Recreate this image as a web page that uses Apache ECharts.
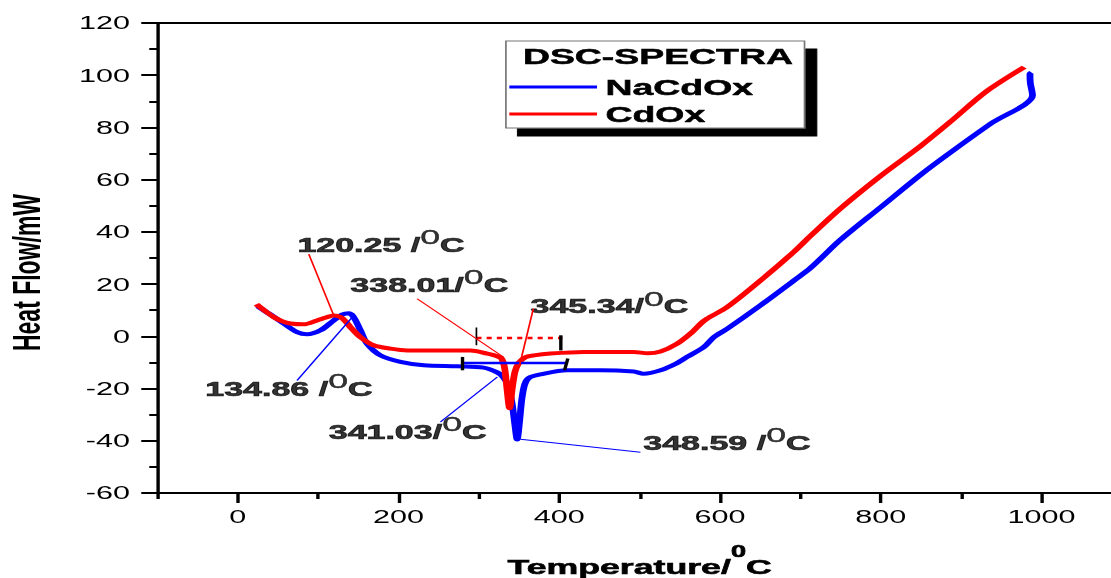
<!DOCTYPE html>
<html><head><meta charset="utf-8">
<script src="https://cdn.jsdelivr.net/npm/echarts@6/dist/echarts.min.js"></script>
<style>
html,body{margin:0;padding:0;background:#fff;overflow:hidden;width:1111px;height:578px}
#chart{width:660px;height:578px;transform:scaleX(1.7);transform-origin:0 0;}
</style>
</head><body><div id="chart"></div>
<script>
// ---- data ----
const naTemp = [25, 40, 57.3, 74, 86.4, 103, 119.5, 130, 138, 144, 152.7, 161, 177.6, 202.5, 231.6, 273, 306, 322.8, 330, 336, 341, 344.5, 347.7, 350.5, 353.5, 357, 362, 376.7, 410, 451.4, 492.8, 505, 526, 545, 559, 580, 592.4, 609, 650.5, 692, 713, 750, 800, 850, 887, 937, 988.7, 986, 985.5, 987.5];
const naHeat = [11.5, 8.5, 4.9, 1.6, 0.8, 2.3, 6.1, 8.3, 8.8, 7.5, 2.3, -2.8, -7.3, -9.8, -11.1, -11.5, -12.0, -13.8, -15.5, -18.5, -25, -33, -39.5, -33, -24, -18.5, -16, -14.6, -13.0, -13.0, -13.5, -14.3, -13.0, -10.5, -7.9, -4.1, -0.3, 2.9, 11.9, 21.4, 26.3, 37, 49.5, 62, 70.5, 81.5, 92.3, 97, 100.5, 101];
const cdTemp = [23.3, 35, 44.8, 55, 65.6, 82, 98.8, 110, 119.5, 127.8, 135, 140, 152.7, 169, 190, 210.8, 250, 289.6, 310.4, 322, 328.2, 332, 335, 338.3, 341.5, 345, 350, 358, 368.4, 389, 430.6, 492.8, 510, 526, 546.8, 565, 576, 584, 609, 650.5, 692, 713, 750, 800, 850, 887, 930, 978.4];
const cdHeat = [12.3, 9.5, 7.4, 5.8, 4.9, 4.6, 6.1, 7.2, 8.0, 7.4, 5.5, 3.6, -0.3, -3.4, -4.7, -5.4, -5.4, -5.4, -6.6, -7.5, -8.5, -12, -20, -27.5, -20, -13.5, -10, -8, -7.3, -6.6, -6.0, -6.0, -6.5, -5.8, -2.8, 1.5, 4.9, 6.8, 11.2, 21.4, 32.4, 38.6, 49, 61.5, 73, 82.3, 93.5, 103.1];

const xMajorTicks = [0, 200, 400, 600, 800, 1000];
const xMinorTicks = [-100, 100, 300, 500, 700, 900, 1100];

// peak annotations
const annText   = ['120.25 /', '134.86 /', '338.01/', '345.34/', '341.03/', '348.59 /'];
const annTextX  = [74.3, -40.2, 140.2, 364.3, 113.3, 504.6];
const annTextY  = [32.2, -23.0, 17.0, 8.7, -39.2, -43.7];
const annFromX  = [88.5, 73.9, 223.3, 367.8, 252.2, 351.8];
const annFromY  = [31.5, -16.9, 14.4, 10.6, -32.8, -39.4];
const annToX    = [119.5, 144.4, 331, 350, 323, 501];
const annToY    = [8.0, 8.0, -8, -12, -15.6, -44.4];
const annSeries = ['CdOx', 'NaCdOx', 'CdOx', 'CdOx', 'NaCdOx', 'NaCdOx'];

// integration baselines
const cdBaseX = [297, 404], cdBaseY = [-0.6, -0.6];
const naBaseX = [279.7, 410], naBaseY = [-10.2, -10.2];
const markX1 = [297, 402, 279.7, 410.7], markY1 = [3.4, 0.4, -7.9, -8.5];
const markX2 = [297, 402, 279.7, 406.6], markY2 = [-3.4, -5.4, -13, -13];

// ---- chart ----
const FONT = 'Liberation Sans, Arial, sans-serif';
const COLORS = { NaCdOx: '#0000ff', CdOx: '#ff0000' };
const zip = (a, b) => a.map((v, i) => [v, b[i]]);

const series = [
  { name: 'NaCdOx', type: 'line', xAxisIndex: 0, yAxisIndex: 0, data: zip(naTemp, naHeat),
    showSymbol: false, symbol: 'none', smooth: 0.3, color: COLORS.NaCdOx,
    lineStyle: { width: 4, color: COLORS.NaCdOx } },
  { name: 'CdOx', type: 'line', xAxisIndex: 0, yAxisIndex: 0, data: zip(cdTemp, cdHeat),
    showSymbol: false, symbol: 'none', smooth: 0.3, color: COLORS.CdOx,
    lineStyle: { width: 4, color: COLORS.CdOx } },
  { name: 'cdBase', type: 'line', data: zip(cdBaseX, cdBaseY), symbol: 'none',
    lineStyle: { width: 2.5, color: COLORS.CdOx, type: [3, 3] } },
  { name: 'naBase', type: 'line', data: zip(naBaseX, naBaseY), symbol: 'none',
    lineStyle: { width: 2.5, color: COLORS.NaCdOx } }
];
markX1.forEach((x, i) => {
  series.push({ name: 'mark' + i, type: 'line', symbol: 'none',
    data: [[x, markY1[i]], [markX2[i], markY2[i]]],
    lineStyle: { width: i === 0 ? 1 : 2, color: '#000' } });
});
annText.forEach((t, i) => {
  series.push({ name: 'lead' + i, type: 'line', symbol: 'none',
    data: [[annFromX[i], annFromY[i]], [annToX[i], annToY[i]]],
    lineStyle: { width: 1, color: COLORS[annSeries[i]] } });
});
series.push({
  name: 'annotations', type: 'scatter', symbolSize: 0, silent: true,
  data: annText.map((t, i) => ({ value: [annTextX[i], annTextY[i]], txt: t })),
  label: {
    show: true, position: [0, 0], align: 'left', verticalAlign: 'bottom', offset: [0, 3],
    formatter: p => '{a|' + p.data.txt + '}{s|0}{a|C}',
    rich: {
      a: { fontSize: 20, fontWeight: 'bold', fontFamily: FONT, color: '#000', lineHeight: 20, verticalAlign: 'bottom',
           textBorderColor: '#000', textBorderWidth: 0.7 },
      s: { fontSize: 21, fontFamily: FONT, color: '#000', lineHeight: 29, verticalAlign: 'top',
           textBorderColor: '#000', textBorderWidth: 0.4 }
    }
  }
});

const axisBlack = { color: '#000', width: 2 };
const option = {
  animation: false,
  backgroundColor: '#fff',
  grid: [
    { left: 92.5, right: 0, top: 23, bottom: 85, outerBoundsMode: 'none', containLabel: false },
    { left: 92.5, right: 0, top: 23, bottom: 85, outerBoundsMode: 'none', containLabel: false }
  ],
  title: {
    text: 'DSC-SPECTRA', left: 307.6, top: 45.5, padding: 0,
    textStyle: { fontSize: 22, fontWeight: 'bold', fontFamily: FONT, color: '#000', lineHeight: 22,
                 textBorderColor: '#000', textBorderWidth: 0.5 }
  },
  legend: {
    data: ['NaCdOx', 'CdOx'], orient: 'vertical', left: 297.6, top: 41,
    padding: [34, 30, 2, 2], itemWidth: 51.6, itemHeight: 3, itemGap: 3,
    icon: 'rect', selectedMode: false,
    textStyle: { fontSize: 22, fontWeight: 'bold', fontFamily: FONT, color: '#000', lineHeight: 24,
                 textBorderColor: '#000', textBorderWidth: 0.5 },
    backgroundColor: '#fff', borderColor: '#777', borderWidth: 1,
    shadowColor: '#000', shadowOffsetX: 7, shadowOffsetY: 8, shadowBlur: 0
  },
  xAxis: [
    { type: 'value', gridIndex: 0, min: -100, max: 1100, position: 'bottom',
      axisLine: { onZero: false, lineStyle: axisBlack }, splitLine: { show: false },
      axisTick: { customValues: xMajorTicks, length: 10, lineStyle: axisBlack },
      axisLabel: { customValues: xMajorTicks, formatter: v => String(v), fontSize: 18, fontFamily: FONT, color: '#000', margin: 15 },
      name: '{a|Temperature/}{s|0}{a|C}', nameLocation: 'middle', nameGap: 51,
      nameTextStyle: { rich: {
        a: { fontSize: 21, fontWeight: 'bold', fontFamily: FONT, color: '#000', lineHeight: 21, verticalAlign: 'bottom',
             textBorderColor: '#000', textBorderWidth: 0.6 },
        s: { fontSize: 16, fontWeight: 'bold', fontFamily: FONT, color: '#000', lineHeight: 33, verticalAlign: 'top',
             textBorderColor: '#000', textBorderWidth: 0.6 }
      } } },
    { type: 'value', gridIndex: 0, min: -100, max: 1100, position: 'top',
      axisLine: { onZero: false, lineStyle: axisBlack }, axisTick: { show: false },
      axisLabel: { show: false }, splitLine: { show: false } },
    { type: 'value', gridIndex: 1, min: -100, max: 1100, position: 'bottom',
      axisLine: { show: false, onZero: false }, splitLine: { show: false },
      axisTick: { customValues: xMinorTicks, length: 6, lineStyle: axisBlack },
      axisLabel: { show: false } }
  ],
  yAxis: [
    { type: 'value', gridIndex: 0, min: -60, max: 120, interval: 20,
      axisLine: { show: true, onZero: false, lineStyle: axisBlack }, splitLine: { show: false },
      axisTick: { show: true, length: 9.4, lineStyle: axisBlack },
      minorTick: { show: true, splitNumber: 2, length: 4.7, lineStyle: axisBlack },
      minorSplitLine: { show: false },
      axisLabel: { fontSize: 18, fontFamily: FONT, color: '#000', margin: 16 } },
    { type: 'value', gridIndex: 1, min: -60, max: 120, show: false,
      axisLine: { onZero: false } }
  ],
  graphic: [{
    type: 'text', x: 15.9, y: 272.5, rotation: Math.PI / 2,
    style: { text: 'Heat Flow/mW', fontSize: 23, fontWeight: 'bold', fontFamily: FONT,
             fill: '#000', align: 'center', verticalAlign: 'middle' }
  }],
  series: series
};

const chart = echarts.init(document.getElementById('chart'), null, { renderer: 'svg' });
chart.setOption(option);
</script>
</body></html>
